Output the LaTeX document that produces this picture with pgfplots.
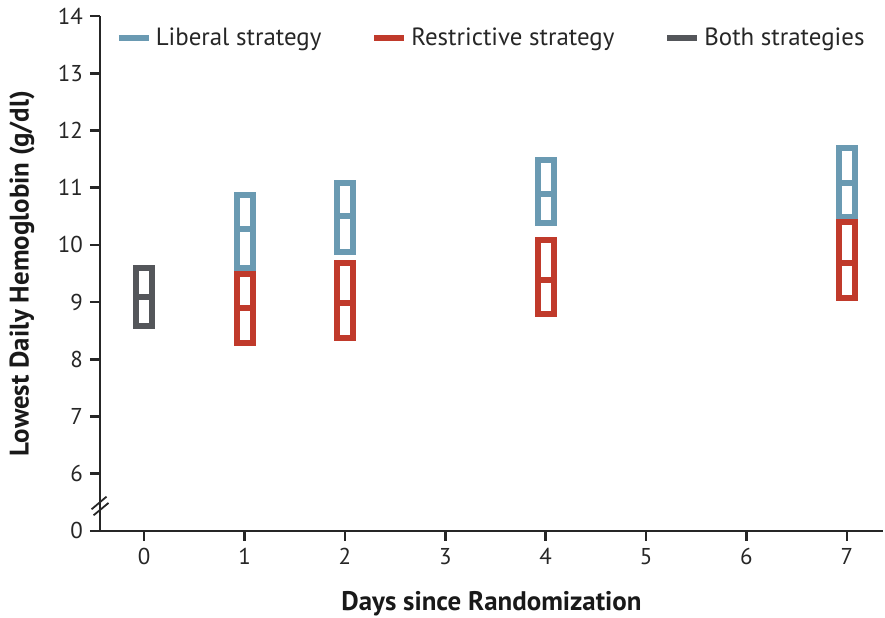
\documentclass[border=0pt]{standalone}
\usepackage{fontspec}
\setmainfont{PT Sans}
\usepackage{pgfplots}
\pgfplotsset{compat=1.18}
\usetikzlibrary{calc}
\definecolor{libblue}{RGB}{106,154,178}
\definecolor{resred}{RGB}{192,58,43}
\definecolor{bothgray}{RGB}{84,86,90}
\begin{document}
\begin{tikzpicture}
\begin{axis}[
  name=ax,
  scale only axis,
  width=391.5bp, height=257.5bp,
  xmin=-0.44, xmax=7.36,
  ymin=5, ymax=14,
  axis lines=left,
  axis line style={line width=1.3bp, black!85, -},
  xtick={0,1,2,3,4,5,6,7},
  ytick={5,6,7,8,9,10,11,12,13,14},
  yticklabels={0,6,7,8,9,10,11,12,13,14},
  tick align=outside,
  major tick length=5bp,
  tick style={line width=1.3bp, black!85},
  ticklabel style={font=\fontsize{11.5}{13}\selectfont, text=black!85},
  /pgf/number format/assume math mode=true,
  xlabel={\textbf{Days since Randomization}},
  ylabel={\textbf{Lowest Daily Hemoglobin (g/dl)}},
  label style={font=\fontsize{13.5}{15}\selectfont, text=black!90},
  x label style={at={(axis description cs:0.5,0)}, anchor=center, yshift=-36.5bp},
  y label style={at={($(axis description cs:0,0.5)+(-39bp,0)$)}, anchor=center},
  clip=false,
  unbounded coords=jump,
  legend style={draw=none, fill=none, at={(axis description cs:0.012,0.957)}, anchor=west,
    font=\fontsize{12.5}{14}\selectfont, text=black!85,
    /tikz/every even column/.append style={column sep=23bp}},
  legend columns=3,
  legend cell align=left,
  legend image code/.code={\draw[#1, line width=3bp] (0cm,0cm) -- (15bp,0cm);},
]
\addlegendimage{libblue}
\addlegendentry{Liberal strategy}
\addlegendimage{resred}
\addlegendentry{Restrictive strategy}
\addlegendimage{bothgray}
\addlegendentry{Both strategies}

% Both strategies, day 0: box 8.59-9.60, median 9.09
\addplot[bothgray, line width=3bp, line join=miter, forget plot] coordinates {
 (-0.08,8.59) (0.08,8.59) (0.08,9.60) (-0.08,9.60) (-0.08,8.59) (0.08,8.59) (nan,nan)
 (-0.08,9.09) (0.08,9.09)
};
% Liberal: days 1,2,4,7
\addplot[libblue, line width=3bp, line join=miter, forget plot] coordinates {
 (0.92,9.60) (1.08,9.60) (1.08,10.88) (0.92,10.88) (0.92,9.60) (1.08,9.60) (nan,nan)
 (0.92,10.28) (1.08,10.28) (nan,nan)
 (1.92,9.88) (2.08,9.88) (2.08,11.09) (1.92,11.09) (1.92,9.88) (2.08,9.88) (nan,nan)
 (1.92,10.50) (2.08,10.50) (nan,nan)
 (3.92,10.39) (4.08,10.39) (4.08,11.49) (3.92,11.49) (3.92,10.39) (4.08,10.39) (nan,nan)
 (3.92,10.89) (4.08,10.89) (nan,nan)
 (6.92,10.48) (7.08,10.48) (7.08,11.69) (6.92,11.69) (6.92,10.48) (7.08,10.48) (nan,nan)
 (6.92,11.09) (7.08,11.09)
};
% Restrictive: days 1,2,4,7
\addplot[resred, line width=3bp, line join=miter, forget plot] coordinates {
 (0.92,8.29) (1.08,8.29) (1.08,9.49) (0.92,9.49) (0.92,8.29) (1.08,8.29) (nan,nan)
 (0.92,8.90) (1.08,8.90) (nan,nan)
 (1.92,8.37) (2.08,8.37) (2.08,9.69) (1.92,9.69) (1.92,8.37) (2.08,8.37) (nan,nan)
 (1.92,8.99) (2.08,8.99) (nan,nan)
 (3.92,8.79) (4.08,8.79) (4.08,10.08) (3.92,10.08) (3.92,8.79) (4.08,8.79) (nan,nan)
 (3.92,9.39) (4.08,9.39) (nan,nan)
 (6.92,9.08) (7.08,9.08) (7.08,10.40) (6.92,10.40) (6.92,9.08) (7.08,9.08) (nan,nan)
 (6.92,9.68) (7.08,9.68)
};

% axis break
\draw[line width=0.9bp, black!85] (axis cs:-0.524,5.379) -- (axis cs:-0.375,5.60);
\draw[line width=0.9bp, black!85] (axis cs:-0.504,5.274) -- (axis cs:-0.355,5.49);
\end{axis}
\pgfresetboundingbox
\path ($(ax.south west)+(-50bp,-43.5bp)$) rectangle ($(ax.north east)+(1bp,8bp)$);
\end{tikzpicture}
\end{document}
